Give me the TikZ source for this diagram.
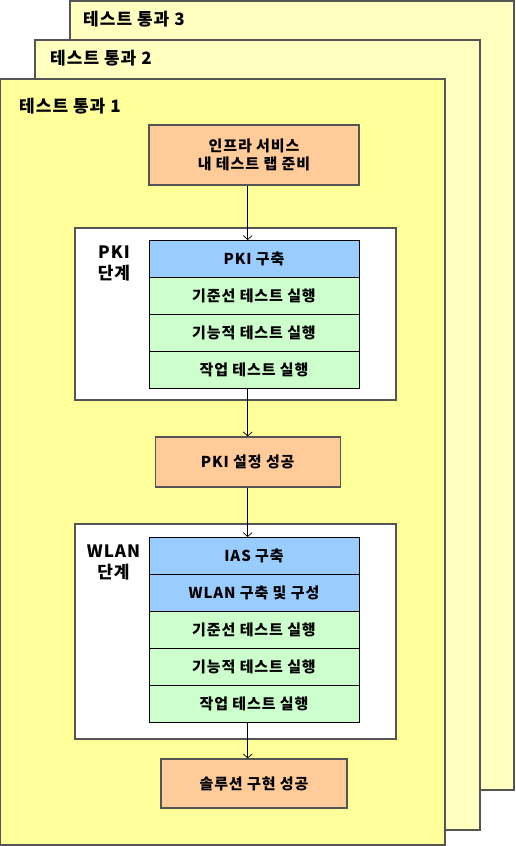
\documentclass[tikz,border=0pt]{standalone}
\usepackage{fontspec}
\setmainfont{Noto Sans CJK KR}[LetterSpace=6]
\usetikzlibrary{positioning,arrows.meta}
\definecolor{passone}{HTML}{FFFF99}
\definecolor{passback}{HTML}{FFFFBF}
\definecolor{stepor}{HTML}{FFCC99}
\definecolor{stepbl}{HTML}{99CCFF}
\definecolor{stepgr}{HTML}{CCFFCC}
\definecolor{edge}{HTML}{555555}
\tikzset{
	passlabel/.style={anchor=west, inner sep=0pt, font=\bfseries\fontsize{17}{19}\selectfont},
	stagelabel/.style={align=center, inner sep=0pt, font=\bfseries\fontsize{17}{21}\selectfont},
	row/.style={draw=black, line width=0.8pt, outer sep=0pt, minimum width=210pt, minimum height=37pt, inner sep=0pt, font=\bfseries\fontsize{15}{16}\selectfont},
	milestone/.style={draw=edge, fill=stepor, line width=1.2pt, inner sep=0pt, align=center, font=\bfseries\fontsize{15}{18}\selectfont},
	stagebox/.style={draw=edge, fill=white, line width=1.2pt},
	passbox/.style={draw=edge, line width=1.2pt},
	flow/.style={-{Straight Barb[length=4pt,width=9pt]}, line width=0.7pt}
}
\begin{document}
\begin{tikzpicture}[x=1pt,y=-1pt]
	\useasboundingbox (0,0) rectangle (515,846);
	\draw[passbox, fill=passback] (70,1) rectangle (514,790);
	\draw[passbox, fill=passback] (35,40) rectangle (480,830);
	\draw[passbox, fill=passone] (0.6,79) rectangle (445,845);
	\node[passlabel] (pass3) at (83,19) {테스트 통과 3};
	\node[passlabel] (pass2) at (50,58) {테스트 통과 2};
	\node[passlabel] (pass1) at (19,106.5) {테스트 통과 1};

	\node[milestone, minimum width=210pt, minimum height=60pt] (infra) at (254,155) {인프라 서비스\\내 테스트 랩 준비};

	\draw[stagebox] (75,228) rectangle (396,400);
	\node[stagelabel] (pkistage) at (114,263) {PKI\\단계};
	\node[row, fill=stepbl] (pkibuild) at (254,258.5) {PKI 구축};
	\node[row, fill=stepgr, below=0pt of pkibuild] (pkibase) {기준선 테스트 실행};
	\node[row, fill=stepgr, below=0pt of pkibase] (pkifunc) {기능적 테스트 실행};
	\node[row, fill=stepgr, below=0pt of pkifunc] (pkiwork) {작업 테스트 실행};

	\node[milestone, minimum width=185pt, minimum height=50pt] (pkiok) at (247.7,462) {PKI 설정 성공};

	\draw[stagebox] (75,524) rectangle (396,739);
	\node[stagelabel] (wlanstage) at (113.5,562) {WLAN\\단계};
	\node[row, fill=stepbl] (iasbuild) at (254,555.5) {IAS 구축};
	\node[row, fill=stepbl, below=0pt of iasbuild] (wlanbuild) {WLAN 구축 및 구성};
	\node[row, fill=stepgr, below=0pt of wlanbuild] (wlanbase) {기준선 테스트 실행};
	\node[row, fill=stepgr, below=0pt of wlanbase] (wlanfunc) {기능적 테스트 실행};
	\node[row, fill=stepgr, below=0pt of wlanfunc] (wlanwork) {작업 테스트 실행};

	\node[milestone, minimum width=186pt, minimum height=49pt] (solution) at (254,783.5) {솔루션 구현 성공};

	\draw[flow] (infra.south -| pkiok) -- (pkibuild.north -| pkiok);
	\draw[flow] (pkiwork.south -| pkiok) -- (pkiok.north);
	\draw[flow] (pkiok.south) -- (iasbuild.north -| pkiok);
	\draw[flow] (wlanwork.south -| pkiok) -- (solution.north -| pkiok);
\end{tikzpicture}
\end{document}
